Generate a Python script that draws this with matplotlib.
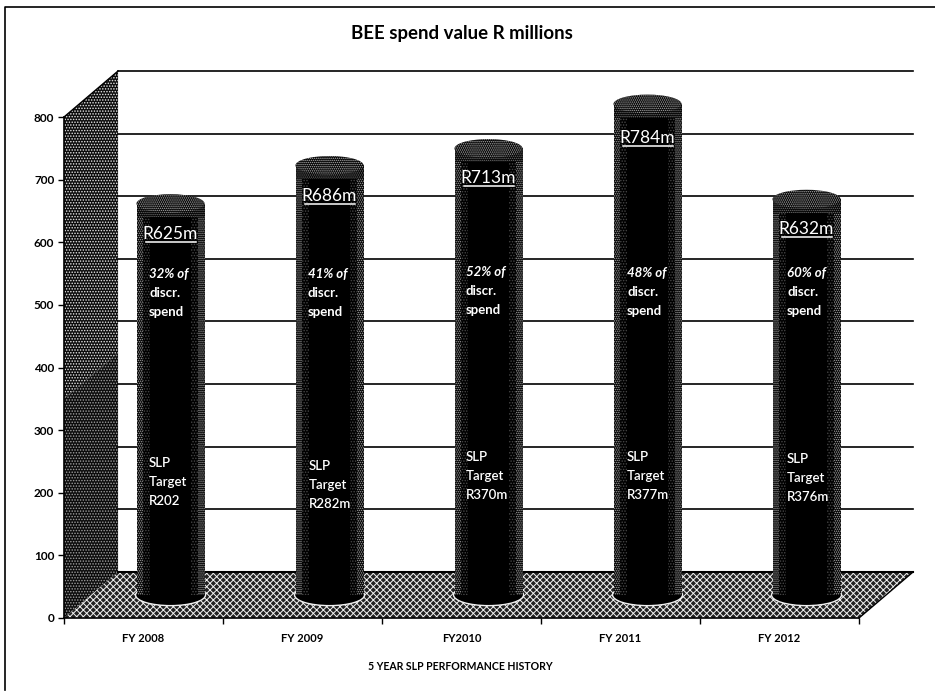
import matplotlib
matplotlib.use('Agg')
import matplotlib.pyplot as plt
from matplotlib.patches import Ellipse, Polygon
from matplotlib.transforms import Affine2D

# Данные диаграммы
years = ['FY 2008', 'FY 2009', 'FY2010', 'FY 2011', 'FY 2012']
spend = [625, 686, 713, 784, 632]
spend_labels = ['R625m', 'R686m', 'R713m', 'R784m', 'R632m']
discr_share = ['32% of', '41% of', '52% of', '48% of', '60% of']
slp_target = ['R202', 'R282m', 'R370m', 'R377m', 'R376m']
y_ticks = [0, 100, 200, 300, 400, 500, 600, 700, 800]

# Смещение задней стенки (псевдо-3D) в единицах осей
depth_x = 0.34
depth_y = 73.5
bar_width = 0.428

# Положение подписей внутри столбцов, пиксели картинки
label_py = [234, 196, 178, 138, 229]
discr_px = [(149, 274), (308, 274), (466, 272), (627, 273), (787, 273)]
slp_px = [(149, 463), (309, 466), (466, 457), (627, 457), (787, 459)]

plt.rcParams['font.family'] = ['Lato', 'DejaVu Sans']
plt.rcParams['hatch.linewidth'] = 0.7

fig = plt.figure(figsize=(9.35, 6.91), dpi=100, facecolor='white')
ax = fig.add_axes([64 / 935, 1 - 618 / 691, 795 / 935, 501 / 691])
ax.set_xlim(-0.5, 4.5)
ax.set_ylim(0, 800)
ax.patch.set_visible(False)
for s in ['top', 'right']:
    ax.spines[s].set_visible(False)
ax.spines['left'].set_linewidth(1.2)
ax.spines['bottom'].set_linewidth(1.2)

# Пиксели картинки -> координаты фигуры
px = Affine2D().scale(1 / 935, -1 / 691).translate(0, 1) + fig.transFigure

# Рамка (правого края на скане нет)
fig.add_artist(plt.Line2D([5, 5, 935], [690, 7, 7], transform=px, color='black', lw=1.2))

# Стенка: сверху светлее, снизу темнее
split = 350
wall_top = Polygon([(-0.5, split), (-0.5 + depth_x, split + depth_y), (-0.5 + depth_x, 800 + depth_y), (-0.5, 800)],
                   facecolor='#0c0c0c', edgecolor='#e8e8e8', hatch='......', lw=0, clip_on=False, zorder=1)
wall_low = Polygon([(-0.5, 0), (-0.5 + depth_x, depth_y), (-0.5 + depth_x, split + depth_y), (-0.5, split)],
                   facecolor='#0c0c0c', edgecolor='#a0a0a0', hatch='......', lw=0, clip_on=False, zorder=1)
# Пол
floor = Polygon([(-0.5, 0), (-0.5 + depth_x, depth_y), (4.5 + depth_x, depth_y), (4.5, 0)],
                facecolor='#222222', edgecolor='#f2f2f2', hatch='xxxxx', lw=0, clip_on=False, zorder=1.2)
ax.add_patch(wall_top)
ax.add_patch(wall_low)
ax.add_patch(floor)
ax.plot([-0.5 + depth_x, 4.5 + depth_x], [depth_y, depth_y], color='black', lw=1.5, clip_on=False, zorder=1.5)
ax.plot([-0.5, -0.5 + depth_x], [800, 800 + depth_y], color='black', lw=1, clip_on=False, zorder=1.5)
ax.plot([4.5, 4.5 + depth_x], [0, depth_y], color='black', lw=1, clip_on=False, zorder=1.5)

# Сетка на задней стенке
for t in y_ticks[1:]:
    ax.plot([-0.5 + depth_x, 4.5 + depth_x], [t + depth_y, t + depth_y], color='black', lw=1.2,
            clip_on=False, zorder=1.5)

# Цилиндры
base = depth_y / 2
for i, v in enumerate(spend):
    xc = i + depth_x / 2
    # белый контур основания на полу
    ax.add_patch(Ellipse((xc, base), bar_width + 0.012, 34, facecolor='black', edgecolor='#f0f0f0',
                         lw=1.0, zorder=2.5))
    ax.bar(xc, v, width=bar_width, bottom=base, color='black', zorder=3, clip_on=False)
    # пятнистые края столбца: к краю плотнее и светлее
    for side in (-1, 1):
        ax.bar(xc + side * bar_width * 0.45, v, width=bar_width * 0.10, bottom=base,
               color='black', edgecolor='#a8a8a8', hatch='........', lw=0, zorder=3.1, clip_on=False)
        ax.bar(xc + side * bar_width * 0.35, v, width=bar_width * 0.10, bottom=base,
               color='black', edgecolor='#484848', hatch='......', lw=0, zorder=3.1, clip_on=False)
    # пятнистая верхушка
    ax.bar(xc, 22, width=bar_width, bottom=base + v - 22, color='black', edgecolor='#707070',
           hatch='........', lw=0, zorder=3.15, clip_on=False)
    ax.add_patch(Ellipse((xc, base + v), bar_width, 30, facecolor='black', edgecolor='#b0b0b0',
                         hatch='........', lw=0, zorder=3.2, clip_on=False))

    # подпись значения с подчёркиванием
    lx = 170.5 + 159 * i
    ax.text(lx, label_py[i], spend_labels[i], transform=px, color='white', fontsize=12.5, ha='center',
            va='center', zorder=5)
    ax.plot([lx - 25, lx + 25], [label_py[i] + 8, label_py[i] + 8], transform=px, color='white', lw=1.1, zorder=5)

    # доля дискреционных расходов
    x0, y0 = discr_px[i]
    for k, line in enumerate([discr_share[i], 'discr.', 'spend']):
        ax.text(x0, y0 + k * 19, line, transform=px, color='white', fontsize=9.5, fontweight='bold',
                fontstyle='italic' if k == 0 else 'normal', va='center', zorder=5)

    # цель SLP
    x0, y0 = slp_px[i]
    for k, line in enumerate(['SLP', 'Target', slp_target[i]]):
        ax.text(x0, y0 + k * 19, line, transform=px, color='white', fontsize=9.5, fontweight='semibold',
                va='center', zorder=5)

# Оси
ax.set_yticks(y_ticks)
ax.set_xticks([-0.5, 0.5, 1.5, 2.5, 3.5, 4.5])
ax.set_xticklabels([])
ax.set_xticks(range(len(years)), minor=True)
ax.set_xticklabels(years, minor=True, fontsize=8, fontweight='bold')
ax.tick_params(axis='x', which='minor', length=0, pad=11)
ax.tick_params(axis='both', which='major', length=4, width=1)
ax.tick_params(axis='y', labelsize=8.5, pad=3)
for lab in ax.get_yticklabels():
    lab.set_fontweight('bold')

fig.text(460 / 935, 1 - 666 / 691, '5 YEAR SLP PERFORMANCE HISTORY', fontsize=7.6, fontweight='bold',
         ha='center', va='center')
fig.text(462 / 935, 1 - 33 / 691, 'BEE spend value R millions', fontsize=13.4, fontweight='bold',
         ha='center', va='center')

plt.savefig('out.png', dpi=100)
